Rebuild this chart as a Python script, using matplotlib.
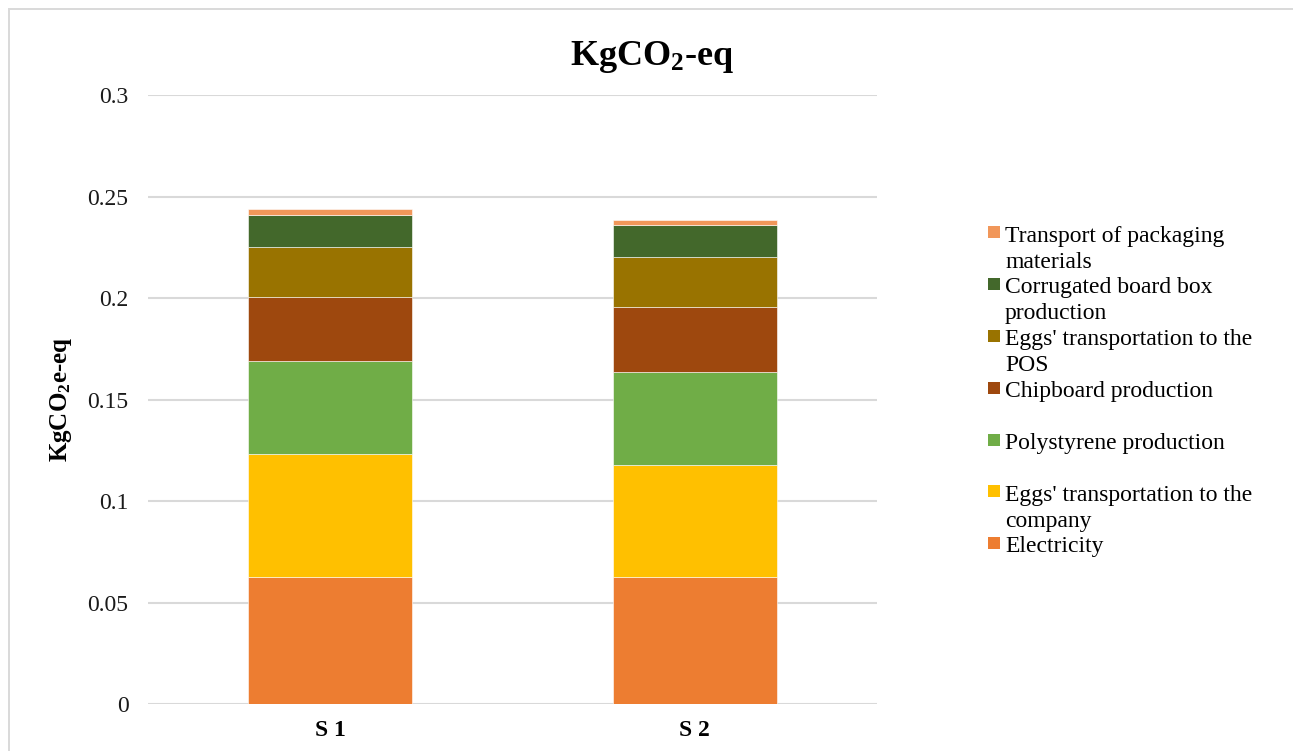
import numpy as np
import matplotlib
matplotlib.use("Agg")
import matplotlib.pyplot as plt
from matplotlib.patches import Rectangle

# Stacked carbon footprint per scenario (kg CO2-eq)
scenarios = ['S 1', 'S 2']
stages = ['Electricity', "Eggs' transportation to the company", 'Polystyrene production',
          'Chipboard production', "Eggs' transportation to the POS",
          'Corrugated board box production', 'Transport of packaging materials']
legend_labels = ['Electricity', "Eggs' transportation to the\ncompany", 'Polystyrene production',
                 'Chipboard production', "Eggs' transportation to the\nPOS",
                 'Corrugated board box\nproduction', 'Transport of packaging\nmaterials']
electricity = [0.0626, 0.0626]
eggs_company = [0.0604, 0.0552]
polystyrene = [0.0458, 0.0457]
chipboard = [0.0318, 0.0319]
eggs_pos = [0.0246, 0.0246]
corrugated = [0.0159, 0.0160]
transport_pack = [0.0026, 0.0025]
colors = ['#ED7D31', '#FFC000', '#70AD47', '#9E480E', '#997300', '#43682B', '#F1975A']

plt.rcParams['font.family'] = ['Liberation Serif', 'DejaVu Serif']
plt.rcParams['mathtext.default'] = 'regular'

W, H = 1293, 751
fig = plt.figure(figsize=(W / 100, H / 100), dpi=100)
ax = fig.add_axes([148 / W, 1 - 704.3 / H, 729 / W, (704.3 - 95) / H])

series = [electricity, eggs_company, polystyrene, chipboard, eggs_pos, corrugated, transport_pack]
x = np.arange(len(scenarios))
bottom = np.zeros(len(scenarios))
for vals, col, name in zip(series, colors, stages):
    ax.bar(x, vals, width=0.45, bottom=bottom, color=col, edgecolor='#ffffff',
           linewidth=0.4, label=name, zorder=3)
    bottom += np.array(vals)

ax.set_xlim(-0.5, 1.5)
ax.set_ylim(0, 0.3)
ax.set_yticks([0, 0.05, 0.1, 0.15, 0.2, 0.25, 0.3])
ax.set_yticklabels(['0', '0.05', '0.1', '0.15', '0.2', '0.25', '0.3'])
ax.set_xticks(x)
ax.set_xticklabels(scenarios, fontweight='bold')
ax.tick_params(axis='y', length=0, pad=14, labelsize=17, labelcolor='#1a1a1a')
ax.tick_params(axis='x', length=0, pad=11, labelsize=17)
ax.grid(axis='y', color='#d9d9d9', linewidth=1.5, zorder=0)
ax.set_axisbelow(True)
for s in ax.spines.values():
    s.set_visible(False)

ax.set_ylabel(r'KgCO$_{2}$e-eq', fontsize=18, fontweight='bold', labelpad=10)
fig.text(652 / W, 1 - 57 / H, r'KgCO$_{2}$-eq', fontsize=26, fontweight='bold',
         ha='center', va='center')

# legend drawn by hand to mimic the spacing
leg_y0 = 232.3
leg_step = 51.8
for i, (lab, col) in enumerate(zip(legend_labels[::-1], colors[::-1])):
    yc = leg_y0 + i * leg_step
    fig.patches.append(Rectangle((988 / W, 1 - (yc + 6) / H), 12 / W, 12 / H,
                                 transform=fig.transFigure, facecolor=col, edgecolor='none'))
    for k, line in enumerate(lab.split('\n')):
        fig.text(1005 / W, 1 - (yc + 9.4 + 26 * k) / H, line, fontsize=17,
                 ha='left', va='baseline')

# chart frame (right and bottom edges fall outside the image)
fig.patches.append(Rectangle((8.5 / W, -0.05), 1.05, 1 - 9.5 / H + 0.05,
                             transform=fig.transFigure, facecolor='none',
                             edgecolor='#d9d9d9', linewidth=1.4))

fig.savefig('out.png', dpi=100)
